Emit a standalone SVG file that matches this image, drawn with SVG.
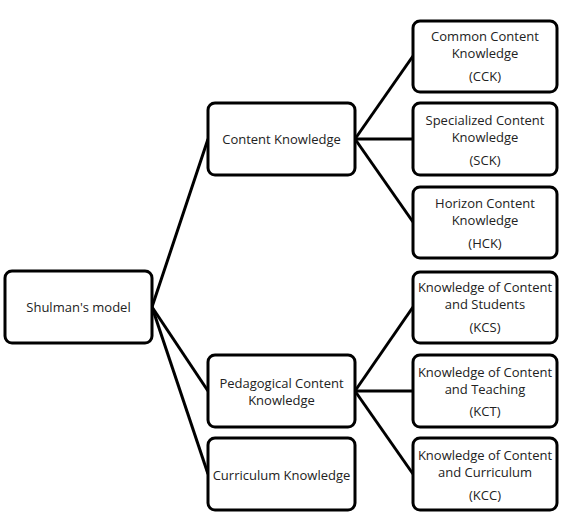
<svg xmlns="http://www.w3.org/2000/svg" width="565" height="518" viewBox="0 0 565 518">
<style>
.box{fill:#fff;stroke:#000;stroke-width:3}
.t{font-family:"Open Sans","Liberation Sans",sans-serif;font-size:13px;fill:#222;text-anchor:middle;dominant-baseline:central}
.c line{stroke:#000;stroke-width:3}
</style>
<rect width="565" height="518" fill="#fff"/>
<g class="c" id="connectors">
<line x1="152" y1="307" x2="208" y2="139"/>
<line x1="152" y1="307" x2="208" y2="391"/>
<line x1="152" y1="307" x2="208" y2="474"/>
<line x1="355" y1="139" x2="413" y2="56"/>
<line x1="355" y1="139" x2="413" y2="139"/>
<line x1="355" y1="139" x2="413" y2="222"/>
<line x1="355" y1="391" x2="413" y2="307"/>
<line x1="355" y1="391" x2="413" y2="391"/>
<line x1="355" y1="391" x2="413" y2="474"/>
</g>
<g id="shulman"><rect class="box" x="5" y="271" width="147" height="72" rx="7"/><text class="t" x="78.5" y="307">Shulman's model</text></g>
<g id="ck"><rect class="box" x="208" y="103" width="147" height="72" rx="7"/><text class="t" x="281.5" y="139">Content Knowledge</text></g>
<g id="pck"><rect class="box" x="208" y="355" width="147" height="72" rx="7"/><text class="t" x="281.5" y="382.5">Pedagogical Content</text><text class="t" x="281.5" y="399.5">Knowledge</text></g>
<g id="curk"><rect class="box" x="208" y="438" width="147" height="72" rx="7"/><text class="t" x="281.5" y="475">Curriculum Knowledge</text></g>
<g id="cck"><rect class="box" x="413" y="21" width="144" height="71" rx="7"/><text class="t" x="485" y="36">Common Content</text><text class="t" x="485" y="53">Knowledge</text><text class="t" x="485" y="76">(CCK)</text></g>
<g id="sck"><rect class="box" x="413" y="103" width="144" height="72" rx="7"/><text class="t" x="485" y="120">Specialized Content</text><text class="t" x="485" y="137">Knowledge</text><text class="t" x="485" y="160">(SCK)</text></g>
<g id="hck"><rect class="box" x="413" y="187" width="144" height="71" rx="7"/><text class="t" x="485" y="203">Horizon Content</text><text class="t" x="485" y="220">Knowledge</text><text class="t" x="485" y="243">(HCK)</text></g>
<g id="kcs"><rect class="box" x="413" y="272" width="144" height="71" rx="7"/><text class="t" x="485" y="286.5">Knowledge of Content</text><text class="t" x="485" y="303.5">and Students</text><text class="t" x="485" y="327">(KCS)</text></g>
<g id="kct"><rect class="box" x="413" y="355" width="144" height="72" rx="7"/><text class="t" x="485" y="371.5">Knowledge of Content</text><text class="t" x="485" y="388.5">and Teaching</text><text class="t" x="485" y="411">(KCT)</text></g>
<g id="kcc"><rect class="box" x="413" y="438" width="144" height="72" rx="7"/><text class="t" x="485" y="455">Knowledge of Content</text><text class="t" x="485" y="472">and Curriculum</text><text class="t" x="485" y="495">(KCC)</text></g>
</svg>
